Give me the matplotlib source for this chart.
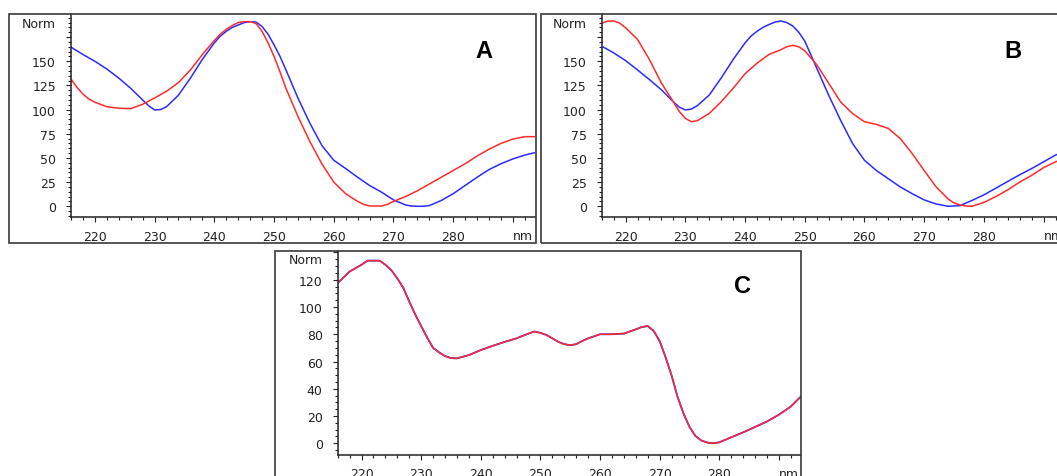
import matplotlib
matplotlib.use("Agg")
import matplotlib.pyplot as plt
from matplotlib.patches import Rectangle
from matplotlib.ticker import MultipleLocator, FixedLocator

# ---------------- data ----------------
a_red_x = [216, 217, 218, 219, 220, 222, 224, 226, 228, 230, 232, 234, 236, 238, 240, 241, 242, 243,
           244, 245, 246, 247, 248, 249, 250, 251, 252, 254, 256, 258, 260, 262, 264, 265, 266, 268,
           269, 270, 272, 274, 276, 278, 280, 282, 284, 286, 288, 290, 292, 293.7]
a_red_y = [131.6, 123, 116, 111, 107.6, 103, 101.4, 101, 105.5, 112, 119, 128, 141, 157, 171.5, 178,
           183, 187, 190, 191, 191, 189, 181, 169, 155, 139, 122, 93, 67, 44, 25, 13, 5, 2, 0.3, 0.3,
           2, 5, 10, 16, 23, 30, 37, 44, 52, 59, 65, 69.5, 72, 72]
a_blue_x = [216, 218, 220, 222, 224, 226, 228, 229, 230, 231, 232, 234, 236, 238, 240, 241, 242, 243,
            244, 245, 246, 247, 248, 249, 250, 251, 252, 254, 256, 258, 260, 262, 264, 266, 268, 270,
            272, 273, 274, 275, 276, 278, 280, 282, 284, 286, 288, 290, 292, 293.7]
a_blue_y = [164.6, 157, 150, 142, 132.6, 122, 110, 104, 99.7, 100, 103, 115, 132.6, 152, 169, 176,
            181, 185, 187.5, 190, 191, 190.5, 186, 178, 167, 155, 141, 112, 86, 63, 47.6, 39, 30,
            21.5, 14.6, 6.6, 1.4, 0.3, 0, 0, 0.7, 6, 13, 21.5, 30, 38, 44, 49, 53, 55.5]

b_red_x = [216.3, 217, 218, 219, 220, 222, 224, 226, 228, 229, 230, 231, 232, 234, 236, 238, 240, 242,
           244, 246, 247, 248, 249, 250, 252, 254, 256, 258, 260, 262, 264, 266, 268, 270, 272, 274,
           275, 276, 277, 278, 280, 282, 284, 286, 288, 290, 292, 293.7]
b_red_y = [190, 191.5, 191.7, 189.5, 184.7, 172.6, 151.7, 127.4, 108, 98, 91, 87.5, 88.5, 96, 108,
           122, 137, 148, 157, 162, 165, 166.5, 165, 161, 146.5, 127.4, 108, 96, 87.5, 84.7, 80.5,
           70, 54.5, 37, 20, 7.6, 3.5, 1.4, 0.3, 0, 4, 10, 17, 25, 32, 40, 46, 50]
b_blue_x = [216.3, 218, 220, 222, 224, 226, 228, 229, 230, 231, 232, 234, 236, 238, 240, 241, 242, 243,
            244, 245, 246, 247, 248, 249, 250, 252, 254, 256, 258, 260, 262, 264, 266, 268, 270, 272,
            274, 276, 278, 280, 282, 284, 286, 288, 290, 292, 293.7]
b_blue_y = [164.6, 158.7, 150.7, 141, 131, 120.5, 108, 102.5, 99.7, 100.5, 104, 115, 132.6, 151.7,
            169, 176, 181, 185, 188, 190.5, 191.7, 190, 186.5, 180, 171, 143, 115, 89, 65, 47.6, 37,
            28.5, 20, 13, 6.6, 2.4, 0, 0.7, 6, 11.8, 18.7, 25.7, 32.6, 39, 46, 53, 57]

c_x = [216, 218, 220, 221, 223, 224, 225, 226, 227, 228, 229, 230, 231, 232, 233, 234, 235, 236, 238,
       240, 242, 244, 246, 248, 249, 250, 251, 252, 253, 254, 255, 256, 257, 258, 260, 262, 264, 266,
       267, 268, 269, 270, 271, 272, 273, 274, 275, 276, 277, 278, 279, 280, 282, 284, 286, 288, 290,
       292, 293.7]
c_red_y = [117.6, 126, 131, 134, 134, 131, 127, 121, 114, 104, 94.5, 86, 77.6, 70, 66.7, 64, 62.5,
           62.3, 64.7, 68.4, 71.5, 74.4, 77, 80.5, 82, 81, 79.5, 77, 74.4, 72.7, 72, 72.7, 75, 77,
           80, 80, 80.5, 83.6, 85.3, 86, 82.4, 75, 63, 49.7, 34, 21.8, 12, 5.3, 2, 0.5, 0, 0.7, 4.4,
           8, 12, 16, 21, 27, 34.4]
c_blue_y = list(c_red_y)

x_ticks = [220, 230, 240, 250, 260, 270, 280, 290]
x_labels = ["220", "230", "240", "250", "260", "270", "280", ""]
ab_yticks = [0, 25, 50, 75, 100, 125, 150, 175]
ab_ylabels = ["0", "25", "50", "75", "100", "125", "150", ""]
c_yticks = [0, 20, 40, 60, 80, 100, 120, 140]
c_ylabels = ["0", "20", "40", "60", "80", "100", "120", ""]

RED = "#ff2b2b"
BLUE = "#2b2bff"
DARK = "#222222"

W, H = 1057, 477
fig = plt.figure(figsize=(W / 100, H / 100), dpi=100)
fig.patch.set_facecolor("white")


def add_box(l, t, r, b):
    fig.add_artist(Rectangle((l / W, (H - b) / H), (r - l) / W, (b - t) / H,
                             transform=fig.transFigure, fill=False,
                             ec="#3a3a3a", lw=1.2, zorder=10))


def make_axes(l, t, r, b, ylim, yticks, ylabels, minor_y, letter, letter_xy):
    ax = fig.add_axes([l / W, (H - b) / H, (r - l) / W, (b - t) / H])
    ax.set_facecolor("none")
    ax.set_xlim(216, 293.7)
    ax.set_ylim(*ylim)
    for s in ("top", "right"):
        ax.spines[s].set_visible(False)
    for s in ("left", "bottom"):
        ax.spines[s].set_color(DARK)
        ax.spines[s].set_linewidth(1.1)
    ax.xaxis.set_major_locator(FixedLocator(x_ticks))
    ax.set_xticklabels(x_labels)
    ax.xaxis.set_minor_locator(MultipleLocator(2))
    ax.yaxis.set_major_locator(FixedLocator(yticks))
    ax.set_yticklabels(ylabels)
    ax.yaxis.set_minor_locator(MultipleLocator(minor_y))
    ax.tick_params(axis="both", which="both", direction="out", colors=DARK,
                   labelsize=9, width=0.8)
    ax.tick_params(axis="y", which="major", length=3.3, pad=7.5)
    ax.tick_params(axis="y", which="minor", length=1.9)
    ax.tick_params(axis="x", which="major", length=3.8, pad=5)
    ax.tick_params(axis="x", which="minor", length=2.2)
    ax.text(-15 / (r - l), (b - t - 9) / (b - t), "Norm", transform=ax.transAxes,
            ha="right", va="center", fontsize=9, color=DARK)
    ax.text(291.7, -18.4 / (b - t), "nm", transform=ax.get_xaxis_transform(),
            ha="center", va="center", fontsize=9, color=DARK)
    fig.text(letter_xy[0] / W, 1 - letter_xy[1] / H, letter, ha="center", va="center",
             fontsize=17, fontweight="bold", family="Liberation Sans", color="black")
    return ax


# Panel A
add_box(8.5, 15, 535.5, 244)
axA = make_axes(71, 15, 535, 218.3, (-11.4, 198.9), ab_yticks, ab_ylabels, 5, "A", (484, 52))
axA.plot(a_blue_x, a_blue_y, color=BLUE, lw=1.1)
axA.plot(a_red_x, a_red_y, color=RED, lw=1.1)

# Panel B
add_box(540.7, 15, 1068, 244)
axB = make_axes(601.7, 15, 1065.7, 218.3, (-11.4, 198.9), ab_yticks, ab_ylabels, 5, "B", (1013, 51))
axB.plot(b_blue_x, b_blue_y, color=BLUE, lw=1.1)
axB.plot(b_red_x, b_red_y, color=RED, lw=1.1)

# Panel C
add_box(275, 251.7, 801, 482)
axC = make_axes(337.7, 251.7, 801, 456, (-8.6, 141.3), c_yticks, c_ylabels, 5, "C", (742.7, 286.7))
axC.plot(c_x, c_blue_y, color=BLUE, lw=1.3)
axC.plot(c_x, c_red_y, color=RED, lw=1.1)

fig.savefig("out.png", dpi=100)
